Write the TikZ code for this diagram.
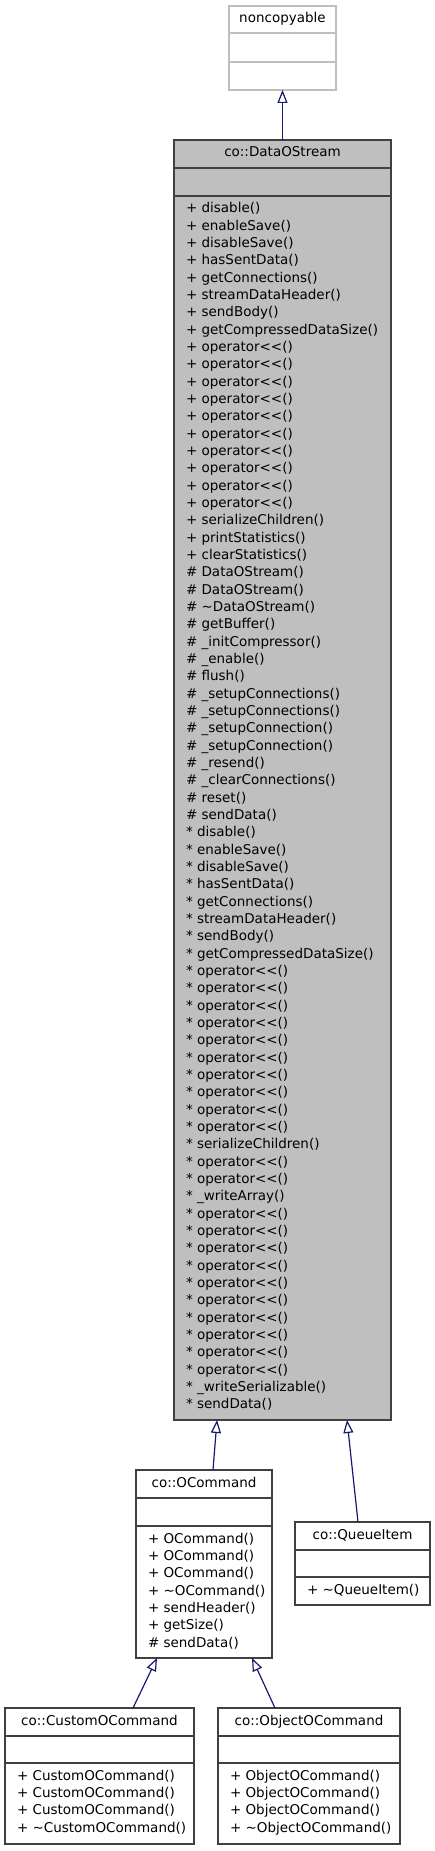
\documentclass[tikz,border=0pt]{standalone}
\usepackage{fontspec}
\newfontfamily\umlfont{DejaVu Sans}
\usetikzlibrary{arrows.meta}
\definecolor{edgeblue}{HTML}{191970}
\definecolor{boxline}{HTML}{404040}
\definecolor{boxfill}{HTML}{BFBFBF}
\definecolor{faint}{HTML}{BFBFBF}
\tikzset{
  cls/.style={draw=boxline, line width=1.5pt, inner sep=0pt, outer sep=0pt, anchor=north west, rectangle, fill=white},
  divl/.style={draw=boxline, line width=1.5pt},
  lbl/.style={font=\umlfont\fontsize{13.5}{16}\selectfont, inner sep=0pt, outer sep=0pt, anchor=base west},
  ttl/.style={font=\umlfont\fontsize{13.5}{16}\selectfont, inner sep=0pt, outer sep=0pt, anchor=base},
  inh/.style={draw=edgeblue, line width=1.2pt, -{Triangle[open,length=13pt,width=10pt]}},
}
\begin{document}
\begin{tikzpicture}[x=1pt,y=-1pt]
\useasboundingbox (0,0) rectangle (435,1851);

% noncopyable
\node[cls, draw=faint, line width=1.2pt, minimum width=107pt, minimum height=84pt] (nc) at (229,6) {};
\draw[draw=faint, line width=1.2pt] ([yshift=-27pt]nc.north west) -- ([yshift=-27pt]nc.north east);
\draw[draw=faint, line width=1.2pt] ([yshift=-56pt]nc.north west) -- ([yshift=-56pt]nc.north east);
\node[ttl] (nct) at (282.5,23) {noncopyable};

% co::DataOStream
\node[cls, fill=boxfill, minimum width=217pt, minimum height=1280pt] (dos) at (174,140) {};
\draw[divl] ([yshift=-28pt]dos.north west) -- ([yshift=-28pt]dos.north east);
\draw[divl] ([yshift=-56pt]dos.north west) -- ([yshift=-56pt]dos.north east);
\node[ttl] (dost) at (282.5,157) {co::DataOStream};
\foreach \t [count=\i from 0] in {
+ disable(), + enableSave(), + disableSave(), + hasSentData(), + getConnections(),
+ streamDataHeader(), + sendBody(), + getCompressedDataSize(),
+ operator<<(), + operator<<(), + operator<<(), + operator<<(), + operator<<(),
+ operator<<(), + operator<<(), + operator<<(), + operator<<(), + operator<<(),
+ serializeChildren(), + printStatistics(), + clearStatistics(),
\# DataOStream(), \# DataOStream(), \# \textasciitilde DataOStream(), \# getBuffer(),
\# \_initCompressor(), \# \_enable(), \# flush(), \# \_setupConnections(),
\# \_setupConnections(), \# \_setupConnection(), \# \_setupConnection(),
\# \_resend(), \# \_clearConnections(), \# reset(), \# sendData(),
* disable(), * enableSave(), * disableSave(), * hasSentData(), * getConnections(),
* streamDataHeader(), * sendBody(), * getCompressedDataSize(),
* operator<<(), * operator<<(), * operator<<(), * operator<<(), * operator<<(),
* operator<<(), * operator<<(), * operator<<(), * operator<<(), * operator<<(),
* serializeChildren(), * operator<<(), * operator<<(), * \_writeArray(),
* operator<<(), * operator<<(), * operator<<(), * operator<<(), * operator<<(),
* operator<<(), * operator<<(), * operator<<(), * operator<<(), * operator<<(),
* \_writeSerializable(), * sendData()}
  \node[lbl] (dosm\i) at (186,{213+17.33*\i}) {\t};

% co::OCommand
\node[cls, minimum width=136pt, minimum height=188pt] (ocmd) at (136,1470) {};
\draw[divl] ([yshift=-28pt]ocmd.north west) -- ([yshift=-28pt]ocmd.north east);
\draw[divl] ([yshift=-56pt]ocmd.north west) -- ([yshift=-56pt]ocmd.north east);
\node[ttl] (ocmdt) at (204,1487) {co::OCommand};
\foreach \t [count=\i from 0] in {+ OCommand(), + OCommand(), + OCommand(),
+ \textasciitilde OCommand(), + sendHeader(), + getSize(), \# sendData()}
  \node[lbl] (ocmdm\i) at (148,{1543+17.33*\i}) {\t};

% co::QueueItem
\node[cls, minimum width=135pt, minimum height=83pt] (qi) at (295,1522) {};
\draw[divl] ([yshift=-28pt]qi.north west) -- ([yshift=-28pt]qi.north east);
\draw[divl] ([yshift=-55pt]qi.north west) -- ([yshift=-55pt]qi.north east);
\node[ttl] (qit) at (362.5,1539) {co::QueueItem};
\node[lbl] (qim0) at (307,1594) {+ \textasciitilde QueueItem()};

% co::CustomOCommand
\node[cls, minimum width=189pt, minimum height=136pt] (coc) at (5,1708) {};
\draw[divl] ([yshift=-28pt]coc.north west) -- ([yshift=-28pt]coc.north east);
\draw[divl] ([yshift=-55pt]coc.north west) -- ([yshift=-55pt]coc.north east);
\node[ttl] (coct) at (99.5,1725) {co::CustomOCommand};
\foreach \t [count=\i from 0] in {+ CustomOCommand(), + CustomOCommand(),
+ CustomOCommand(), + \textasciitilde CustomOCommand()}
  \node[lbl] (cocm\i) at (17,{1780+17.33*\i}) {\t};

% co::ObjectOCommand
\node[cls, minimum width=182pt, minimum height=136pt] (ooc) at (218,1708) {};
\draw[divl] ([yshift=-28pt]ooc.north west) -- ([yshift=-28pt]ooc.north east);
\draw[divl] ([yshift=-55pt]ooc.north west) -- ([yshift=-55pt]ooc.north east);
\node[ttl] (ooct) at (309,1725) {co::ObjectOCommand};
\foreach \t [count=\i from 0] in {+ ObjectOCommand(), + ObjectOCommand(),
+ ObjectOCommand(), + \textasciitilde ObjectOCommand()}
  \node[lbl] (oocm\i) at (230,{1780+17.33*\i}) {\t};

% inheritance edges
\draw[inh] (dos.north) -- (nc.south);
\draw[inh] ([xshift=9pt]ocmd.north) -- ([xshift=-65.5pt]dos.south);
\draw[inh] ([xshift=-4.5pt]qi.north) -- ([xshift=64.5pt]dos.south);
\draw[inh] ([xshift=33.5pt]coc.north) -- ([xshift=-47pt]ocmd.south);
\draw[inh] ([xshift=-34pt]ooc.north) -- ([xshift=48pt]ocmd.south);
\end{tikzpicture}
\end{document}
